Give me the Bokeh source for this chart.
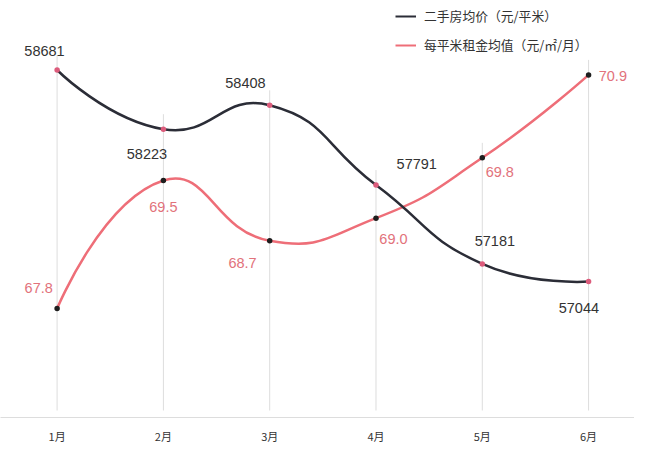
import math
from bokeh.plotting import figure
from bokeh.models import Range1d, LegendItem, Legend, FixedTicker, ColumnDataSource
from bokeh.core.properties import value
from bokeh.embed import file_html
from bokeh.resources import INLINE

# ---------------- data ----------------
months = ["1月", "2月", "3月", "4月", "5月", "6月"]
price = [58681, 58223, 58408, 57791, 57181, 57044]
rent = [67.8, 69.5, 68.7, 69.0, 69.8, 70.9]
price_name = "二手房均价（元/平米）"
rent_name = "每平米租金均值（元/㎡/月）"

# ---------------- style ----------------
W, H = 634, 453
BOTTOM = 36
X_RANGE = (-0.5325, 5.432)
PRICE_RANGE = (55992.6, 59218.7)
RENT_RANGE = (66.3555, 71.887)
BLACK = "#2b2d37"
PINK = "#ee6e78"
DOT_PINK = "#dc5c7c"
DOT_BLACK = "#1e1e1e"
LABEL_DARK = "#333333"
LABEL_PINK = "#e2727b"
GRID = "#dddddd"
NUM_FONT = "Liberation Sans"
CJK_FONT = "Noto Sans CJK SC"
SMOOTH = 0.5
OFF_SCALE = 0.97
# label offsets in screen px (dx, dy down-positive)
PRICE_OFFSETS = [(-13, -20), (-17, 26), (-25, -23), (42, -22), (13, -24), (-10, 27)]
RENT_OFFSETS = [(-19, -21), (0, 27), (-28, 23), (18, 22), (18, 15), (25, 1)]

frame_w = W
frame_h = H - BOTTOM
sx = frame_w / (X_RANGE[1] - X_RANGE[0])
sp = frame_h / (PRICE_RANGE[1] - PRICE_RANGE[0])
sr = frame_h / (RENT_RANGE[1] - RENT_RANGE[0])

xs = list(range(len(months)))


def bezier_cps(xv, yv, kx, ky, s):
    """ECharts-like smoothing; returns segment endpoints and control points (data units)."""
    n = len(xv)
    cin, cout = [], []
    for i in range(n):
        if i == 0 or i == n - 1:
            cin.append((xv[i], yv[i]))
            cout.append((xv[i], yv[i]))
            continue
        vx = xv[i + 1] - xv[i - 1]
        vy = yv[i + 1] - yv[i - 1]
        d0 = math.hypot((xv[i] - xv[i - 1]) * kx, (yv[i] - yv[i - 1]) * ky)
        d1 = math.hypot((xv[i + 1] - xv[i]) * kx, (yv[i + 1] - yv[i]) * ky)
        r = d1 / (d0 + d1)
        cin.append((xv[i] - vx * s * (1 - r), yv[i] - vy * s * (1 - r)))
        cout.append((xv[i] + vx * s * r, yv[i] + vy * s * r))
    return dict(
        x0=xv[:-1], y0=yv[:-1], x1=xv[1:], y1=yv[1:],
        cx0=[c[0] for c in cout[:-1]], cy0=[c[1] for c in cout[:-1]],
        cx1=[c[0] for c in cin[1:]], cy1=[c[1] for c in cin[1:]],
    )


p = figure(width=W, height=H, x_range=Range1d(*X_RANGE), y_range=Range1d(*PRICE_RANGE),
           output_backend="svg", toolbar_location=None, y_axis_location=None,
           min_border_left=0, min_border_right=0, min_border_top=0, min_border_bottom=BOTTOM)
p.extra_y_ranges = {"rent": Range1d(*RENT_RANGE)}
p.outline_line_color = None
p.xgrid.visible = False
p.ygrid.visible = False
p.background_fill_color = "white"
p.border_fill_color = "white"

ax = p.xaxis[0]
ax.ticker = FixedTicker(ticks=xs)
ax.major_label_overrides = {i: m for i, m in enumerate(months)}
ax.axis_line_color = GRID
ax.axis_line_width = 1.2
ax.major_tick_line_color = None
ax.minor_tick_line_color = None
ax.major_label_standoff = 4
ax.major_label_text_font = CJK_FONT
ax.major_label_text_font_size = "11px"
ax.major_label_text_color = LABEL_DARK


def price_px(v):
    return (PRICE_RANGE[1] - v) * sp


def rent_px(v):
    return (RENT_RANGE[1] - v) * sr


# vertical guide lines
grid_top = [PRICE_RANGE[1] - (min(price_px(a), rent_px(b)) - 15) / sp for a, b in zip(price, rent)]
grid_bottom = [PRICE_RANGE[0] + 7 / sp] * len(xs)
p.segment(x0=xs, y0=grid_bottom, x1=xs, y1=grid_top, line_color=GRID, line_width=1)

# curves
rent_src = ColumnDataSource(bezier_cps(xs, rent, sx, sr, SMOOTH))
p.bezier(source=rent_src, x0="x0", y0="y0", x1="x1", y1="y1", cx0="cx0", cy0="cy0",
         cx1="cx1", cy1="cy1", line_color=PINK, line_width=2.5, y_range_name="rent")
price_src = ColumnDataSource(bezier_cps(xs, price, sx, sp, SMOOTH))
p.bezier(source=price_src, x0="x0", y0="y0", x1="x1", y1="y1", cx0="cx0", cy0="cy0",
         cx1="cx1", cy1="cy1", line_color=BLACK, line_width=2.5)

# dots
p.scatter(xs, rent, size=5.5, fill_color=DOT_BLACK, line_color=None, y_range_name="rent")
p.scatter(xs, price, size=5.5, fill_color=DOT_PINK, line_color=None)

# labels
p.text(x=xs, y=price, text=[str(v) for v in price],
       x_offset=[o[0] * OFF_SCALE for o in PRICE_OFFSETS],
       y_offset=[o[1] * OFF_SCALE for o in PRICE_OFFSETS],
       text_align="center", text_baseline="middle", text_font=value(NUM_FONT),
       text_font_size="14.5px", text_color=LABEL_DARK)
p.text(x=xs, y=rent, text=[f"{v:.1f}" for v in rent],
       x_offset=[o[0] * OFF_SCALE for o in RENT_OFFSETS],
       y_offset=[o[1] * OFF_SCALE for o in RENT_OFFSETS],
       text_align="center", text_baseline="middle", text_font=value(NUM_FONT),
       text_font_size="14.5px", text_color=LABEL_PINK, y_range_name="rent")

# legend (single-point line renderers: draw nothing in the plot, only the legend swatch)
lr1 = p.line(x=xs[:1], y=price[:1], line_color=BLACK, line_width=2)
lr2 = p.line(x=xs[:1], y=rent[:1], line_color=PINK, line_width=2, y_range_name="rent")
legend = Legend(items=[LegendItem(label=price_name, renderers=[lr1]),
                       LegendItem(label=rent_name, renderers=[lr2])],
                location=(395, frame_h - 54.4), orientation="vertical",
                border_line_color=None, background_fill_alpha=0,
                label_text_font=CJK_FONT, label_text_font_size="12.8px",
                label_text_color=LABEL_DARK, glyph_width=21, glyph_height=14,
                label_height=14, label_standoff=8, spacing=10, padding=0, margin=0)
p.add_layout(legend)

open("out.html", "w").write(file_html(p, INLINE))
